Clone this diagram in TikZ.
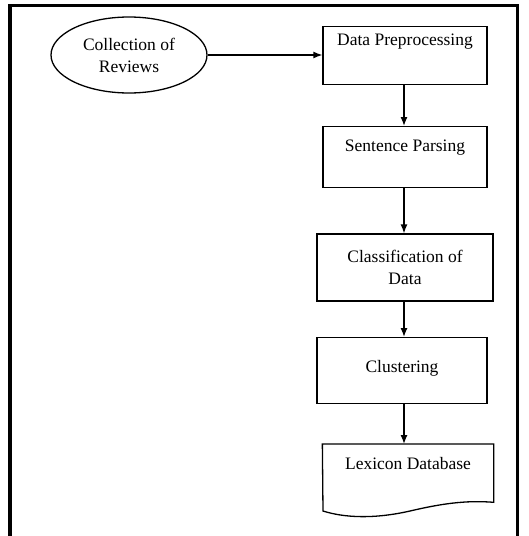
\documentclass[tikz,border=0pt]{standalone}
\usepackage{fontspec}
\setmainfont{Liberation Serif}
\usetikzlibrary{shapes.geometric,arrows.meta}
\begin{document}
\begin{tikzpicture}[x=1pt,y=-1pt,
		every node/.style={font=\fontsize{17.5}{22}\selectfont},
		stage/.style={draw,line width=1.3pt,anchor=north,inner sep=3pt},
		flow/.style={-{Latex[length=9pt,width=7pt]},line width=1.3pt}]
		\useasboundingbox (0,0) rectangle (529,536);
		\draw[line width=3.5pt] (10,536) -- (10,5.5) -- (517.5,5.5) -- (517.5,536);
		\node[ellipse,draw,line width=1.3pt,minimum width=156pt,minimum height=76pt,inner sep=0pt,align=center] (reviews) at (129,55) {Collection of\\Reviews};
		\node[stage,minimum width=164pt,text height=16pt,text depth=36pt] (prep) at (405,26) {Data Preprocessing};
		\node[stage,minimum width=164pt,text height=21.7pt,text depth=33.3pt] (parse) at (405,126) {Sentence Parsing};
		\node[stage,anchor=center,minimum width=176pt,minimum height=67pt,align=center] (classify) at (405,267.5) {Classification of\\Data};
		\node[stage,minimum width=170pt,text height=31.7pt,text depth=28.3pt] (cluster) at (402,337) {Clustering};
		\node[stage,draw=none,minimum width=170pt,text height=22pt,text depth=29pt] (lexicon) at (408,444) {Lexicon Database};
		\draw[line width=1.3pt] (323,511) -- (lexicon.north west) -- (lexicon.north east) -- (lexicon.south east)
			.. controls (465,500) and (440,504) .. (410,511) .. controls (375,519) and (345,518) .. (323,511) -- cycle;
		\coordinate (spine) at (404,0);
		\draw[flow] (reviews.east) -- (reviews.east -| prep.west);
		\draw[flow] (prep.south -| spine) -- (parse.north -| spine);
		\draw[flow] (parse.south -| spine) -- (classify.north -| spine);
		\draw[flow] (classify.south -| spine) -- (cluster.north -| spine);
		\draw[flow] (cluster.south -| spine) -- (lexicon.north -| spine);
	\end{tikzpicture}
\end{document}
